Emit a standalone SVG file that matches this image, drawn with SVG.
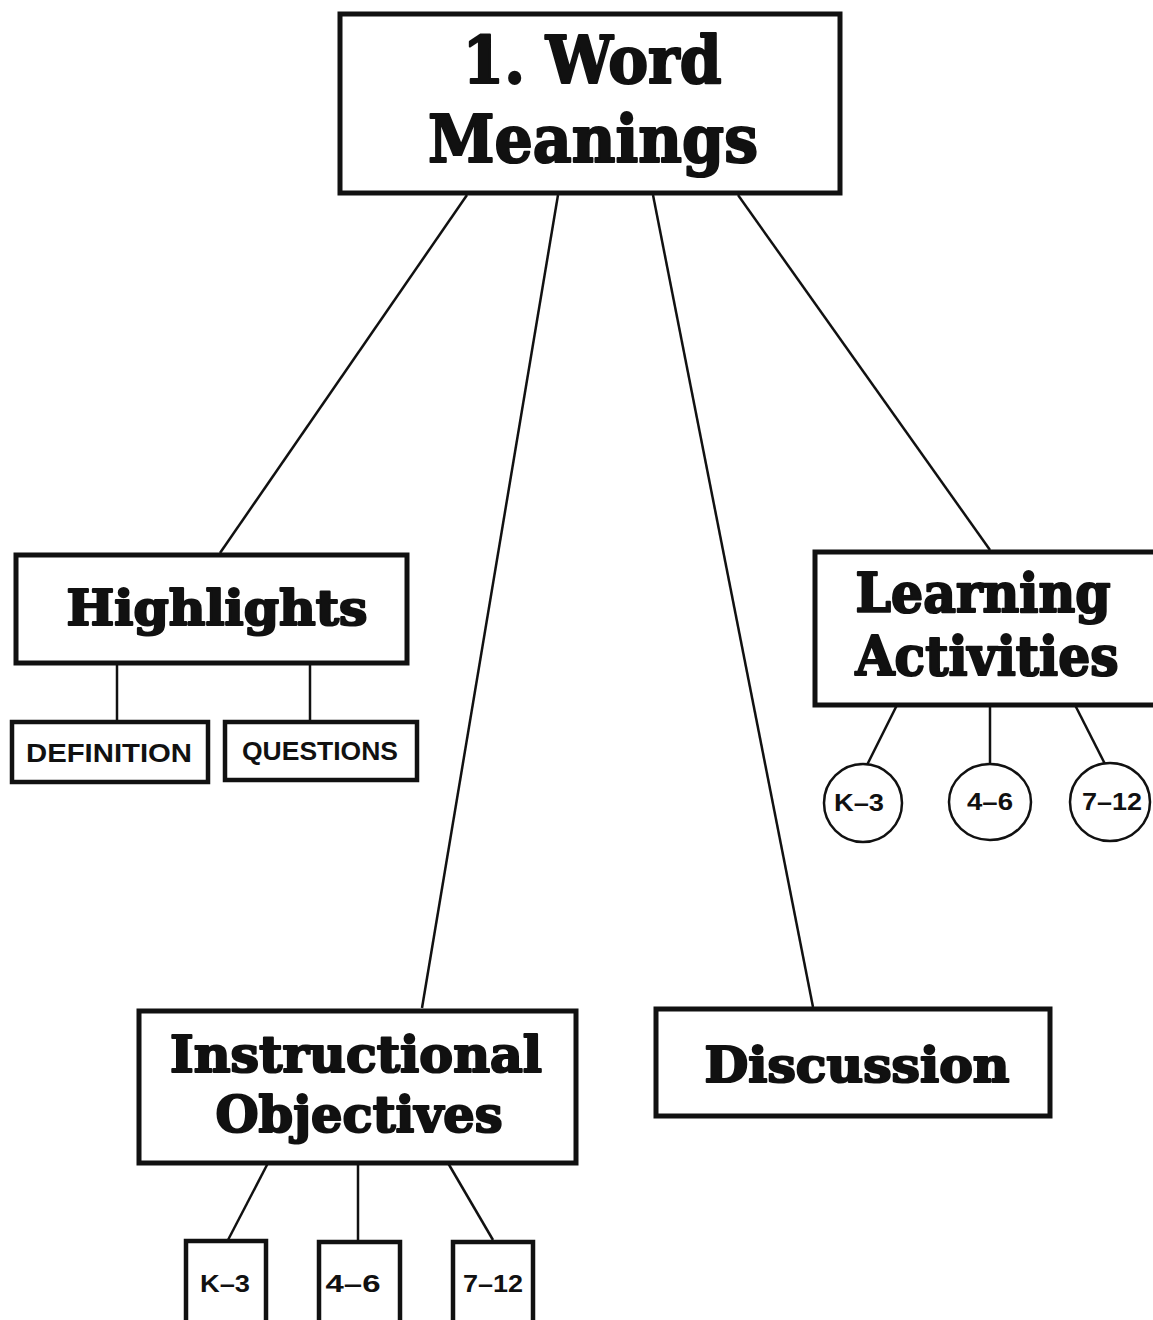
<svg xmlns="http://www.w3.org/2000/svg" width="1153" height="1320" viewBox="0 0 1153 1320">
<style>
.box{fill:#fff;stroke:#111;stroke-width:5}
.sbox{fill:#fff;stroke:#111;stroke-width:4.5}
.circ{fill:#fff;stroke:#111;stroke-width:2.5}
.conn line{stroke:#111;stroke-width:2.5}
.h{font-family:"DejaVu Serif","Liberation Serif",serif;font-weight:bold;fill:#111;stroke:#111;stroke-width:2.2;stroke-linejoin:round;text-anchor:middle}
.s{font-family:"Liberation Sans",Arial,sans-serif;font-weight:bold;fill:#111;text-anchor:middle;font-size:24px}
</style>
<rect width="1153" height="1320" fill="#fff"/>
<g class="conn" id="connectors">
<line x1="467" y1="195" x2="220" y2="553"/>
<line x1="558" y1="195" x2="422" y2="1008"/>
<line x1="653" y1="195" x2="813" y2="1007"/>
<line x1="738" y1="195" x2="990" y2="550"/>
<line x1="117" y1="663" x2="117" y2="722"/>
<line x1="310" y1="663" x2="310" y2="722"/>
<line x1="897" y1="705" x2="867" y2="765"/>
<line x1="990" y1="705" x2="990" y2="764"/>
<line x1="1075" y1="705" x2="1105" y2="764"/>
<line x1="268" y1="1163" x2="228" y2="1240"/>
<line x1="358" y1="1163" x2="358" y2="1240"/>
<line x1="448" y1="1163" x2="493" y2="1240"/>
</g>
<g id="main">
<rect class="box" x="340" y="14" width="500" height="179"/>
<text class="h" x="592" y="83" font-size="66" textLength="259" lengthAdjust="spacingAndGlyphs">1. Word</text>
<text class="h" x="593" y="162" font-size="66" textLength="330" lengthAdjust="spacingAndGlyphs">Meanings</text>
</g>
<g id="highlights">
<rect class="box" x="16" y="555" width="391" height="108"/>
<text class="h" x="217" y="625" font-size="48" textLength="301" lengthAdjust="spacingAndGlyphs">Highlights</text>
</g>
<g id="definition">
<rect class="sbox" x="12" y="722" width="196" height="60"/>
<text class="s" x="109" y="762" font-size="26" style="font-size:26px" textLength="166" lengthAdjust="spacingAndGlyphs">DEFINITION</text>
</g>
<g id="questions">
<rect class="sbox" x="225" y="722" width="192" height="58"/>
<text class="s" x="320" y="760" style="font-size:26px" textLength="156" lengthAdjust="spacingAndGlyphs">QUESTIONS</text>
</g>
<g id="learning">
<rect class="box" x="815" y="552" width="345" height="153"/>
<text class="h" x="983" y="612" font-size="54" textLength="255" lengthAdjust="spacingAndGlyphs">Learning</text>
<text class="h" x="987" y="675" font-size="54" textLength="263" lengthAdjust="spacingAndGlyphs">Activities</text>
</g>
<g id="la-k3">
<ellipse class="circ" cx="863" cy="803" rx="39" ry="39"/>
<text class="s" x="859" y="811" textLength="50" lengthAdjust="spacingAndGlyphs">K–3</text>
</g>
<g id="la-46">
<ellipse class="circ" cx="990" cy="802" rx="41" ry="38"/>
<text class="s" x="990" y="810" textLength="46" lengthAdjust="spacingAndGlyphs">4–6</text>
</g>
<g id="la-712">
<ellipse class="circ" cx="1110" cy="802" rx="40" ry="39"/>
<text class="s" x="1112" y="810" textLength="60" lengthAdjust="spacingAndGlyphs">7–12</text>
</g>
<g id="instructional">
<rect class="box" x="139" y="1011" width="437" height="152"/>
<text class="h" x="356" y="1072" font-size="51" textLength="372" lengthAdjust="spacingAndGlyphs">Instructional</text>
<text class="h" x="359" y="1132" font-size="51" textLength="287" lengthAdjust="spacingAndGlyphs">Objectives</text>
</g>
<g id="io-k3">
<rect class="sbox" x="186" y="1241" width="80" height="90"/>
<text class="s" x="225" y="1292" textLength="50" lengthAdjust="spacingAndGlyphs">K–3</text>
</g>
<g id="io-46">
<rect class="sbox" x="319" y="1242" width="81" height="90"/>
<text class="s" x="353" y="1292" textLength="55" lengthAdjust="spacingAndGlyphs">4–6</text>
</g>
<g id="io-712">
<rect class="sbox" x="453" y="1242" width="80" height="90"/>
<text class="s" x="493" y="1292" textLength="60" lengthAdjust="spacingAndGlyphs">7–12</text>
</g>
<g id="discussion">
<rect class="box" x="656" y="1009" width="394" height="107"/>
<text class="h" x="857" y="1082" font-size="48" textLength="305" lengthAdjust="spacingAndGlyphs">Discussion</text>
</g>
</svg>
